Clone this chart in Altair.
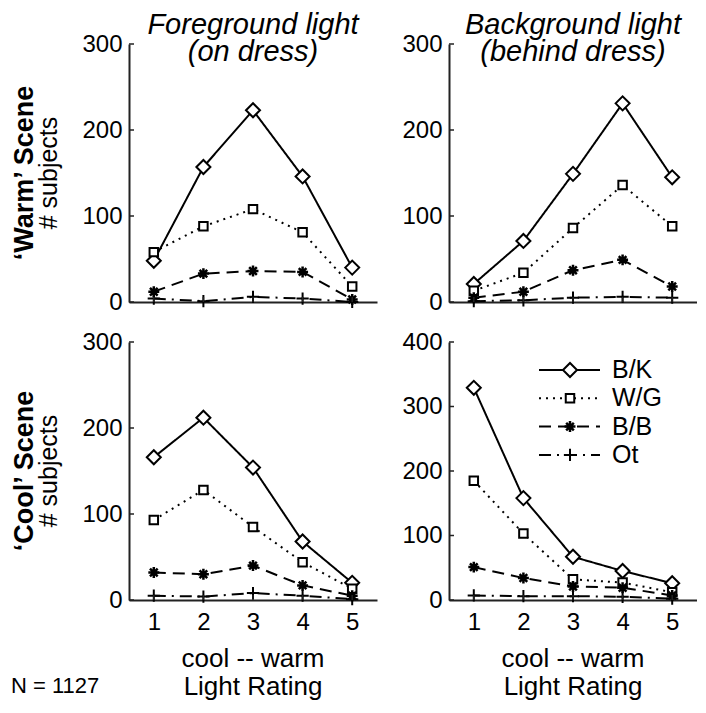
import altair as alt
import pandas as pd

# ---------------- data ----------------
ratings = [1, 2, 3, 4, 5]
series = ["B/K", "W/G", "B/B", "Ot"]

# 'Warm' scene, foreground light (on dress)
warm_fg_bk = [48, 157, 223, 146, 40]
warm_fg_wg = [58, 88, 108, 81, 18]
warm_fg_bb = [12, 33, 36, 35, 3]
warm_fg_ot = [4, 1, 6, 4, 0]

# 'Warm' scene, background light (behind dress)
warm_bg_bk = [21, 71, 149, 231, 145]
warm_bg_wg = [13, 34, 86, 136, 88]
warm_bg_bb = [5, 12, 37, 49, 18]
warm_bg_ot = [1, 2, 5, 6, 5]

# 'Cool' scene, foreground light
cool_fg_bk = [166, 212, 154, 68, 20]
cool_fg_wg = [93, 128, 85, 44, 13]
cool_fg_bb = [32, 30, 40, 17, 5]
cool_fg_ot = [5, 4, 8, 5, 1]

# 'Cool' scene, background light
cool_bg_bk = [329, 158, 67, 45, 26]
cool_bg_wg = [185, 103, 32, 27, 12]
cool_bg_bb = [51, 34, 21, 19, 7]
cool_bg_ot = [7, 6, 6, 5, 2]

ticks_300 = [0, 100, 200, 300]
ticks_400 = [0, 100, 200, 300, 400]

col_titles = [["Foreground light", "(on dress)"], ["Background light", "(behind dress)"]]
row_titles = ["\u2018Warm\u2019 Scene", "\u2018Cool\u2019 Scene"]
y_title = "# subjects"
x_title = ["cool -- warm", "Light Rating"]
note = "N = 1127"

# ---------------- style ----------------
FONT = "Liberation Sans"
W = 248
H = 258
DASHES = [[1, 0], [2, 5], [12, 7], [12, 6, 2, 6]]
ASTERISK = "M0,-1L0,1M-1,0L1,0M-0.7,-0.7L0.7,0.7M-0.7,0.7L0.7,-0.7"
PLUS = "M-1,0L1,0M0,-1L0,1"
SHAPES = ["diamond", "square", ASTERISK, PLUS]
SIZES = [196, 72, 120, 150]
SWIDTH = [2, 2, 2.5, 2]


def one(txt):
    return pd.DataFrame({"t": [txt]})


def text_layer(txt, x, y, size, **kw):
    return alt.Chart(one("x")).mark_text(
        text=txt, font=FONT, fontSize=size, color="black", **kw
    ).encode(x=alt.value(x), y=alt.value(y))


def make_panel(vals, yticks, col_title=None, row_title=None, bottom=False,
               legend=False, show_note=False):
    rows = []
    for s, arr in zip(series, vals):
        for r, v in zip(ratings, arr):
            rows.append({"rating": r, "count": v, "series": s})
    df = pd.DataFrame(rows)

    xscale = alt.Scale(domain=[0.5, 5.5], nice=False, zero=False)
    yscale = alt.Scale(domain=[0, yticks[-1]], nice=False, zero=True)
    xaxis = alt.Axis(values=ratings, labels=bottom, ticks=False, grid=False,
                     labelPadding=10, format="d", title=None)
    yaxis = alt.Axis(values=yticks, ticks=False, grid=False, labelPadding=7,
                     format="d", title=None)

    def X(f):
        return alt.X(f, scale=xscale, axis=xaxis, title=None)

    def Y(f):
        return alt.Y(f, scale=yscale, axis=yaxis, title=None)

    layers = []
    layers.append(
        alt.Chart(df).mark_line(color="black", strokeWidth=2).encode(
            x=X("rating:Q"), y=Y("count:Q"),
            strokeDash=alt.StrokeDash("series:N",
                                      scale=alt.Scale(domain=series, range=DASHES),
                                      legend=None),
        )
    )
    for s, shp, sz, sw in zip(series, SHAPES, SIZES, SWIDTH):
        layers.append(
            alt.Chart(df).transform_filter(alt.datum.series == s).mark_point(
                shape=shp, size=sz, filled=True, fill="white", stroke="black",
                strokeWidth=sw, opacity=1,
            ).encode(x=X("rating:Q"), y=Y("count:Q"))
        )
    # inward tick marks
    layers.append(
        alt.Chart(pd.DataFrame({"t": ratings})).mark_rule(color="#222", strokeWidth=1.5)
        .encode(x=X("t:Q"), y=alt.value(H), y2=alt.value(H - 5))
    )
    layers.append(
        alt.Chart(pd.DataFrame({"t": yticks})).mark_rule(color="#222", strokeWidth=1.5)
        .encode(y=Y("t:Q"), x=alt.value(0), x2=alt.value(5))
    )

    if col_title is not None:
        layers.append(text_layer(col_title, W / 2, -10, 29, fontStyle="italic",
                                 lineHeight=27, align="center", baseline="alphabetic"))
    if row_title is not None:
        layers.append(text_layer(row_title, -104, H / 2, 27, fontWeight="bold",
                                 angle=270, align="center", baseline="middle"))
        layers.append(text_layer(y_title, -80, H / 2, 25,
                                 angle=270, align="center", baseline="middle"))
    if bottom:
        layers.append(text_layer(x_title, W / 2, H + 67, 26, lineHeight=28,
                                 align="center", baseline="alphabetic"))
    if show_note:
        layers.append(text_layer(note, -118, H + 93, 22,
                                 align="left", baseline="alphabetic"))
    if legend:
        for i, (s, d, shp, sz, sw) in enumerate(zip(series, DASHES, SHAPES, SIZES, SWIDTH)):
            yy = 28 + 28.3 * i
            layers.append(
                alt.Chart(one(s)).mark_rule(color="black", strokeWidth=2, strokeDash=d)
                .encode(x=alt.value(90), x2=alt.value(151), y=alt.value(yy))
            )
            layers.append(
                alt.Chart(one(s)).mark_point(
                    shape=shp, size=sz, filled=True, fill="white", stroke="black",
                    strokeWidth=sw, opacity=1,
                ).encode(x=alt.value(121), y=alt.value(yy))
            )
            layers.append(text_layer(s, 163, yy, 25, align="left", baseline="middle"))

    return alt.layer(*layers).properties(width=W, height=H)


tl = make_panel([warm_fg_bk, warm_fg_wg, warm_fg_bb, warm_fg_ot], ticks_300,
                col_title=col_titles[0], row_title=row_titles[0])
tr = make_panel([warm_bg_bk, warm_bg_wg, warm_bg_bb, warm_bg_ot], ticks_300,
                col_title=col_titles[1])
bl = make_panel([cool_fg_bk, cool_fg_wg, cool_fg_bb, cool_fg_ot], ticks_300,
                row_title=row_titles[1], bottom=True, show_note=True)
br = make_panel([cool_bg_bk, cool_bg_wg, cool_bg_bb, cool_bg_ot], ticks_400,
                bottom=True, legend=True)

chart = (
    alt.concat(tl, tr, bl, br, columns=2, spacing={"row": 40, "column": 72},
               bounds="flush")
    .properties(padding={"top": 3, "left": 3, "right": 0, "bottom": 0})
    .configure_view(stroke=None)
    .configure_axis(domainColor="#222", domainWidth=2, labelFont=FONT,
                    labelFontSize=24, labelColor="black")
)

chart.save("out.html", embed_options={"renderer": "svg", "actions": False})
